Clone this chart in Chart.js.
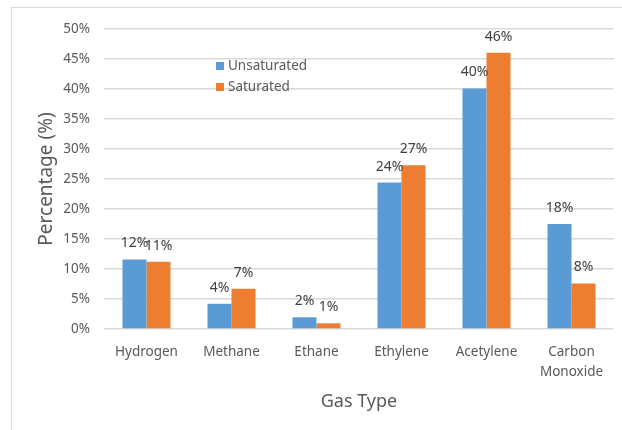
<!DOCTYPE html>
<html lang="en">
<head>
<meta charset="UTF-8">
<title>Gas Type Percentages</title>
<script src="https://cdn.jsdelivr.net/npm/chart.js"></script>
<style>
    body { margin: 0; background: #fff; }
    #wrap { position: relative; width: 622px; height: 430px; overflow: hidden; }
    #frame {
        position: absolute; left: 11px; top: 7px; width: 640px; height: 450px;
        border: 1px solid #d9d9d9; box-sizing: border-box;
    }
    #chart { position: absolute; left: 0; top: 0; }
</style>
</head>
<body>
<div id="wrap">
    <div id="frame"></div>
    <canvas id="chart" width="622" height="430"></canvas>
</div>
<script>
const gasTypes = ['Hydrogen', 'Methane', 'Ethane', 'Ethylene', 'Acetylene', ['Carbon', 'Monoxide']];
const unsaturated = [11.6, 4.2, 1.95, 24.4, 40.1, 17.5];
const saturated = [11.2, 6.7, 0.95, 27.3, 46.05, 7.6];
const yTicks = [0, 5, 10, 15, 20, 25, 30, 35, 40, 45, 50];

const FONT = '"Noto Sans", "Open Sans", sans-serif';
const BLUE = '#5b9bd5';
const ORANGE = '#ed7d31';

// value labels above each bar, rounded like the spreadsheet does
const barLabels = {
    id: 'barLabels',
    afterDatasetsDraw(chart) {
        const ctx = chart.ctx;
        ctx.save();
        ctx.font = '14px ' + FONT;
        ctx.fillStyle = '#404040';
        ctx.textAlign = 'center';
        ctx.textBaseline = 'alphabetic';
        chart.data.datasets.forEach((ds, i) => {
            chart.getDatasetMeta(i).data.forEach((bar, j) => {
                ctx.fillText(Math.round(ds.data[j]) + '%', bar.x, bar.y - 12);
            });
        });
        ctx.restore();
    }
};

// legend sits inside the plot, stacked
const innerLegend = {
    id: 'innerLegend',
    afterDraw(chart) {
        const ctx = chart.ctx;
        ctx.save();
        ctx.font = '13.5px ' + FONT;
        ctx.textBaseline = 'middle';
        chart.data.datasets.forEach((ds, i) => {
            const y = 66 + i * 21;
            ctx.fillStyle = ds.backgroundColor;
            ctx.fillRect(216, y - 4, 8, 8);
            ctx.fillStyle = '#595959';
            ctx.fillText(ds.label, 228, y);
        });
        ctx.restore();
    }
};

new Chart(document.getElementById('chart'), {
    type: 'bar',
    data: {
        labels: gasTypes,
        datasets: [
            { label: 'Unsaturated', data: unsaturated, backgroundColor: BLUE },
            { label: 'Saturated', data: saturated, backgroundColor: ORANGE }
        ]
    },
    options: {
        responsive: false,
        animation: false,
        layout: { padding: { top: 29, right: 8, bottom: 0, left: 0 } },
        datasets: { bar: { categoryPercentage: 0.565, barPercentage: 1 } },
        plugins: {
            legend: { display: false },
            tooltip: { enabled: false }
        },
        scales: {
            x: {
                grid: { display: false, drawTicks: false },
                border: { display: false },
                ticks: {
                    color: '#595959',
                    padding: 13,
                    maxRotation: 0,
                    font: { family: FONT, size: 13.5, lineHeight: 1.48 }
                },
                title: {
                    display: true,
                    text: 'Gas Type',
                    color: '#595959',
                    font: { family: FONT, size: 18 },
                    padding: { top: 0, bottom: 17 }
                },
                afterFit(scale) { scale.height = 101; }
            },
            y: {
                min: 0,
                max: 50,
                afterBuildTicks(scale) { scale.ticks = yTicks.map(v => ({ value: v })); },
                grid: { color: '#d9d9d9', lineWidth: 1.5, drawTicks: false },
                border: { display: false },
                ticks: {
                    color: '#595959',
                    padding: 14,
                    font: { family: FONT, size: 13.5 },
                    callback: v => v + '%'
                },
                title: {
                    display: true,
                    text: 'Percentage (%)',
                    color: '#595959',
                    font: { family: FONT, size: 19 },
                    padding: { top: 35, bottom: 0 }
                },
                afterFit(scale) { scale.width = 104; }
            }
        }
    },
    plugins: [barLabels, innerLegend]
});
</script>
</body>
</html>
